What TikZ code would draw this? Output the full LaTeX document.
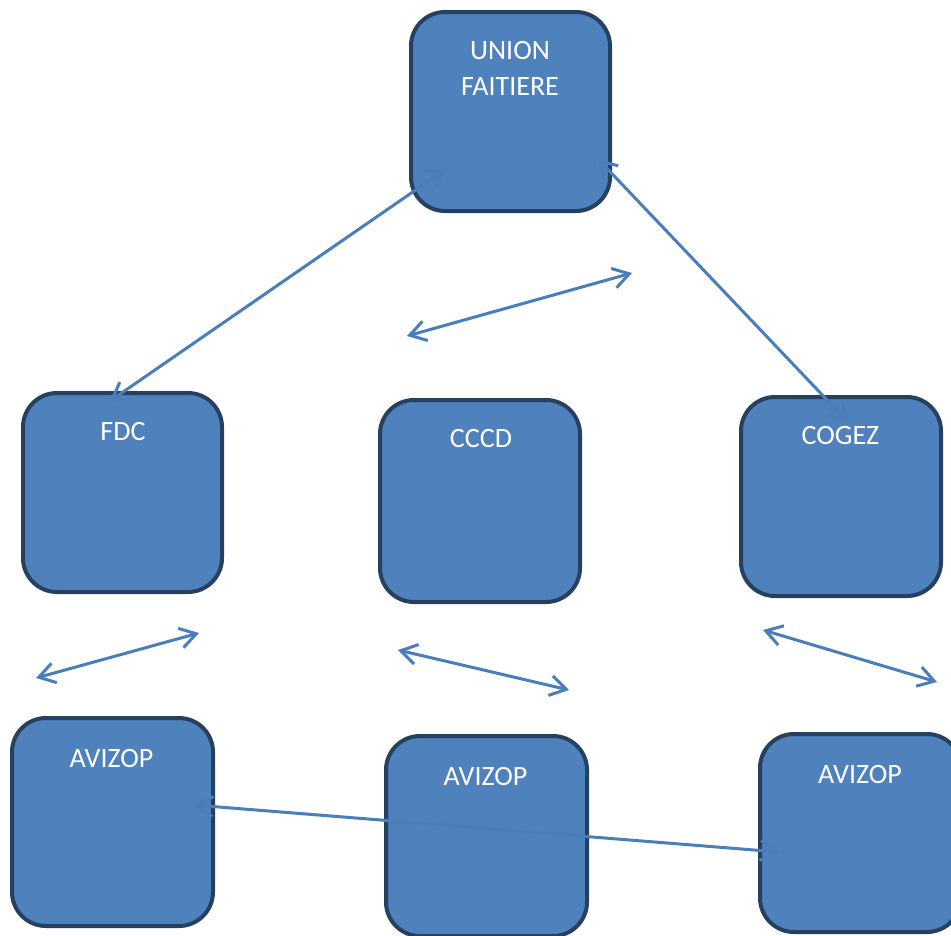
\documentclass[tikz,border=0pt]{standalone}
\usepackage{fontspec}
\setmainfont{Carlito}
\usetikzlibrary{arrows.meta}
\definecolor{boxfill}{RGB}{79,129,189}
\definecolor{boxline}{RGB}{38,64,96}
\definecolor{arrowc}{RGB}{74,126,187}
\tikzset{
  box/.style={draw=boxline, fill=boxfill, line width=4pt, rounded corners=34pt, inner sep=0pt, outer sep=0pt},
  lbl/.style={text=white, font=\fontsize{28}{36}\selectfont, anchor=base, inner sep=0pt},
  conn/.style={draw=arrowc, line width=3pt, arrows={Straight Barb[length=16pt,width=20pt]-Straight Barb[length=16pt,width=20pt]}}
}
\begin{document}
\begin{tikzpicture}[x=1pt,y=-1pt]
\useasboundingbox (0,0) rectangle (951,935);
\clip (0,0) rectangle (951,935);
% boxes
\node[box, minimum width=199pt, minimum height=199pt] (union) at (510.5,111.5) {};
\node[box, minimum width=199pt, minimum height=199pt] (fdc) at (122.5,492.5) {};
\node[box, minimum width=200pt, minimum height=202pt] (cccd) at (480,501) {};
\node[box, minimum width=200pt, minimum height=199pt] (cogez) at (841,496.5) {};
\node[box, minimum width=201pt, minimum height=208pt] (av1) at (112.5,822) {};
\node[box, minimum width=201pt, minimum height=200pt] (av2) at (486.5,836) {};
\node[box, minimum width=201pt, minimum height=198pt] (av3) at (860.5,833) {};
% labels
\node[lbl] (tunion) at (510,59.5) {UNION};
\node[lbl] (tfait) at (510,95) {FAITIERE};
\node[lbl] (tfdc) at (123,440.5) {FDC};
\node[lbl] (tcccd) at (481,447) {CCCD};
\node[lbl] (tcogez) at (840.5,444) {COGEZ};
\node[lbl] (tav1) at (111.5,767) {AVIZOP};
\node[lbl] (tav2) at (485.5,785) {AVIZOP};
\node[lbl] (tav3) at (860,783) {AVIZOP};
% arrow end points
\coordinate (a1s) at (110,401); \coordinate (a1e) at (446,169);
\coordinate (a2s) at (598,159); \coordinate (a2e) at (848,422);
\coordinate (a3s) at (407,336); \coordinate (a3e) at (632,273);
\coordinate (a4s) at (36,678);  \coordinate (a4e) at (199,633);
\coordinate (a5s) at (398,650); \coordinate (a5e) at (569,690);
\coordinate (a6s) at (763,630); \coordinate (a6e) at (937,682);
\coordinate (a7s) at (194,805); \coordinate (a7e) at (779,852);
% connectors
\draw[conn] (a1s) -- (a1e);
\draw[conn] (a2s) -- (a2e);
\draw[conn] (a3s) -- (a3e);
\draw[conn] (a4s) -- (a4e);
\draw[conn] (a5s) -- (a5e);
\draw[conn] (a6s) -- (a6e);
\draw[conn] (a7s) -- (a7e);
\end{tikzpicture}
\end{document}
